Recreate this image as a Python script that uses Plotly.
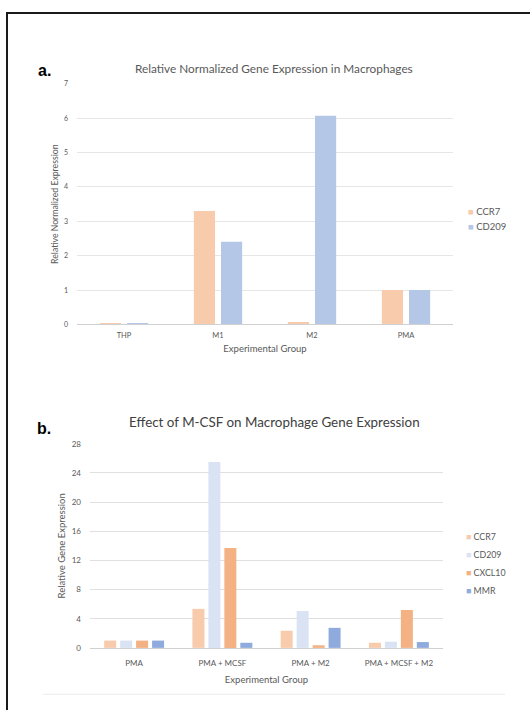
import plotly.graph_objects as go

W, H = 530, 715

# ---------------- data ----------------
groups_a = ["THP", "M1", "M2", "PMA"]
genes_a = ["CCR7", "CD209"]
ccr7_a = [0.03, 3.30, 0.07, 1.00]
cd209_a = [0.02, 2.41, 6.07, 1.00]
yticks_a = [0, 1, 2, 3, 4, 5, 6, 7]

groups_b = ["PMA", "PMA + MCSF", "PMA + M2", "PMA + MCSF + M2"]
genes_b = ["CCR7", "CD209", "CXCL10", "MMR"]
ccr7_b = [1.00, 5.35, 2.35, 0.70]
cd209_b = [1.00, 25.5, 5.05, 0.85]
cxcl10_b = [1.00, 13.7, 0.36, 5.20]
mmr_b = [1.00, 0.70, 2.75, 0.80]
yticks_b = [0, 4, 8, 12, 16, 20, 24, 28]

colors_a = ["#F8CBAD", "#B4C7E7"]
colors_b = ["#F8CBAD", "#DAE3F3", "#F4B183", "#8FAADC"]

GRAY = "#595959"
FONT = "Lato, 'Open Sans', sans-serif"


def px(x):
    return x / W


def py(y):
    return 1 - y / H


fig = go.Figure()

# ---- chart a bars (manual grouping via offset/width, category width = 1) ----
slot_a, bw_a = 0.289, 0.225
series_a = [ccr7_a, cd209_a]
n = len(series_a)
for i, (name, vals, col) in enumerate(zip(genes_a, series_a, colors_a)):
    center = (i - (n - 1) / 2) * slot_a
    fig.add_trace(go.Bar(
        x=groups_a, y=vals, name=name, marker_color=col, marker_line_width=0,
        width=bw_a, offset=center - bw_a / 2, xaxis="x", yaxis="y",
        showlegend=False))

# ---- chart b bars ----
slot_b, bw_b = 0.181, 0.136
series_b = [ccr7_b, cd209_b, cxcl10_b, mmr_b]
n = len(series_b)
for i, (name, vals, col) in enumerate(zip(genes_b, series_b, colors_b)):
    center = (i - (n - 1) / 2) * slot_b
    fig.add_trace(go.Bar(
        x=groups_b, y=vals, name=name, marker_color=col, marker_line_width=0,
        width=bw_b, offset=center - bw_b / 2, xaxis="x2", yaxis="y2",
        showlegend=False))

fig.update_layout(
    width=W, height=H,
    margin=dict(l=0, r=0, t=0, b=0),
    paper_bgcolor="white", plot_bgcolor="white",
    barmode="overlay",
    font=dict(family=FONT, color=GRAY),
    showlegend=False,
    xaxis=dict(domain=[px(77), px(453)], anchor="y", type="category",
               showline=True, linecolor="#D0D0D0", linewidth=1,
               ticks="", tickfont=dict(size=7.5, color=GRAY), ticklabelstandoff=4,
               title=dict(text="Experimental Group", font=dict(size=9.5, color=GRAY), standoff=5),
               showgrid=False),
    yaxis=dict(domain=[py(324), py(80)], anchor="x", range=[0, 7],
               tickvals=yticks_a, tickfont=dict(size=7, color=GRAY),
               showgrid=True, gridcolor="#E6E6E6", gridwidth=1, zeroline=False,
               ticks="", ticklabelstandoff=8,
               title=dict(text="Relative Normalized Expression", font=dict(size=8.7, color=GRAY), standoff=3)),
    xaxis2=dict(domain=[px(90), px(443)], anchor="y2", type="category",
                showline=True, linecolor="#D0D0D0", linewidth=1,
                ticks="", tickfont=dict(size=8, color=GRAY), ticklabelstandoff=8,
                title=dict(text="Experimental Group", font=dict(size=9.5, color=GRAY), standoff=8),
                showgrid=False),
    yaxis2=dict(domain=[py(652), py(445)], anchor="x2", range=[0, 28],
                tickvals=yticks_b, tickfont=dict(size=8, color=GRAY),
                showgrid=True, gridcolor="#E0E0E0", gridwidth=1, zeroline=False,
                ticks="", ticklabelstandoff=8,
                title=dict(text="Relative Gene Expression", font=dict(size=9.5, color=GRAY), standoff=4)),
)

annotations = [
    dict(text="Relative Normalized Gene Expression in Macrophages", x=px(274), y=py(64),
         font=dict(size=11.8, color=GRAY)),
    dict(text="Effect of M-CSF on Macrophage Gene Expression", x=px(274), y=py(423),
         font=dict(size=13.4, color="#404040")),
    dict(text="<b>a.</b>", x=px(44), y=py(66), font=dict(size=16, color="black",
                                                       family="'Liberation Sans', Arial, sans-serif")),
    dict(text="<b>b.</b>", x=px(44), y=py(430), font=dict(size=16, color="black",
                                                        family="'Liberation Sans', Arial, sans-serif")),
]

# legends (swatch + label) built from series names/colours
for i, (name, col) in enumerate(zip(genes_a, colors_a)):
    annotations.append(dict(
        text=f"<span style='color:{col}'>■</span> {name}",
        x=px(466), y=py(209 + 16 * i), xanchor="left",
        font=dict(size=9.5, color=GRAY)))
for i, (name, col) in enumerate(zip(genes_b, colors_b)):
    annotations.append(dict(
        text=f"<span style='color:{col}'>■</span> {name}",
        x=px(464), y=py(539 + 18.2 * i), xanchor="left",
        font=dict(size=8.8, color=GRAY)))

for a in annotations:
    a.setdefault("xanchor", "center")
    a.update(xref="paper", yref="paper", yanchor="middle", showarrow=False)
fig.update_layout(annotations=annotations)

# page frame lines and bottom separator
fig.update_layout(shapes=[
    dict(type="line", xref="paper", yref="paper", x0=px(6), x1=1, y0=py(8), y1=py(8),
         line=dict(color="#1a1a1a", width=2)),
    dict(type="line", xref="paper", yref="paper", x0=px(7), x1=px(7), y0=py(8), y1=0,
         line=dict(color="#1a1a1a", width=2)),
    dict(type="line", xref="paper", yref="paper", x0=px(43), x1=px(505), y0=py(699), y1=py(699),
         line=dict(color="#EBEBEB", width=1)),
])

fig.write_html("out.html", config={"displayModeBar": False})
